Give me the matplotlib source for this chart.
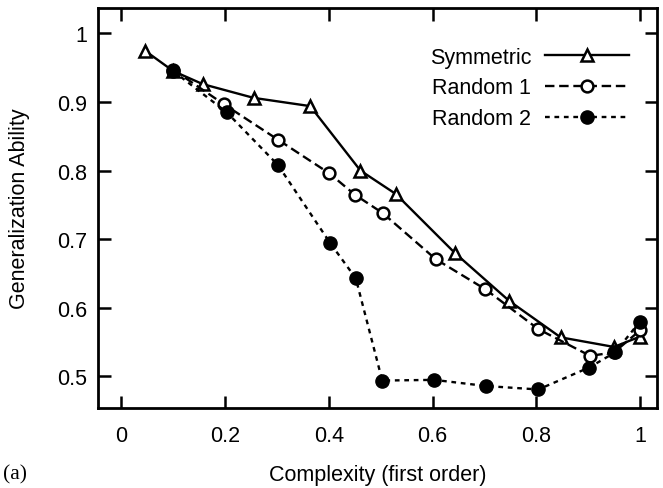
import numpy as np
import matplotlib.pyplot as plt

plt.rcParams['font.family'] = ['Liberation Sans', 'DejaVu Sans']
plt.rcParams['font.size'] = 15.5

# Symmetric
sym_x = [0.045, 0.10, 0.157, 0.255, 0.364, 0.461, 0.529, 0.643, 0.748, 0.847, 0.95, 1.0]
sym_y = [0.975, 0.945, 0.926, 0.906, 0.894, 0.800, 0.766, 0.680, 0.610, 0.557, 0.543, 0.558]

# Random 1
r1_x = [0.10, 0.197, 0.302, 0.401, 0.450, 0.504, 0.606, 0.702, 0.804, 0.904, 0.95, 1.0]
r1_y = [0.947, 0.897, 0.845, 0.796, 0.765, 0.738, 0.671, 0.627, 0.569, 0.530, 0.535, 0.567]

# Random 2
r2_x = [0.10, 0.203, 0.302, 0.402, 0.452, 0.503, 0.603, 0.704, 0.804, 0.902, 0.952, 1.0]
r2_y = [0.945, 0.885, 0.808, 0.695, 0.643, 0.494, 0.495, 0.486, 0.481, 0.513, 0.535, 0.580]

xticks = [0, 0.2, 0.4, 0.6, 0.8, 1]
xticklabels = ['0', '0.2', '0.4', '0.6', '0.8', '1']
yticks = [0.5, 0.6, 0.7, 0.8, 0.9, 1]
yticklabels = ['0.5', '0.6', '0.7', '0.8', '0.9', '1']

fig = plt.figure(figsize=(6.63, 4.89), dpi=100)
ax = fig.add_axes([0.148, 0.1636, 0.843, 0.818])

ax.plot(sym_x, sym_y, '-', color='black', lw=1.7, marker='^', ms=8,
        mfc='white', mec='black', mew=1.8, label='Symmetric')
ax.plot(r1_x, r1_y, color='black', lw=1.7, ls=(0, (4, 2)), marker='o', ms=8.5,
        mfc='white', mec='black', mew=1.8, label='Random 1')
ax.plot(r2_x, r2_y, color='black', lw=1.7, ls=(0, (2, 2)), marker='o', ms=9.5,
        mfc='black', mec='black', label='Random 2')

ax.set_xlim(-0.045, 1.033)
ax.set_ylim(0.454, 1.037)
ax.set_xticks(xticks)
ax.set_xticklabels(xticklabels)
ax.set_yticks(yticks)
ax.set_yticklabels(yticklabels)
ax.tick_params(direction='in', length=9, width=1.8, top=True, right=True)
ax.tick_params(axis='x', pad=12)
ax.tick_params(axis='y', pad=8)
for s in ax.spines.values():
    s.set_linewidth(2)

ax.set_xlabel('Complexity (first order)', labelpad=13)
ax.set_ylabel('Generalization Ability', labelpad=19)

ax.legend(loc='upper right', bbox_to_anchor=(0.95, 0.903), frameon=False,
          markerfirst=False, handlelength=3.9, handletextpad=0.65,
          labelspacing=0.45, borderpad=0, borderaxespad=0)

fig.text(0.004, 0.02, '(a)', family='Liberation Serif', fontsize=15.5)

fig.savefig('out.png', dpi=100)
